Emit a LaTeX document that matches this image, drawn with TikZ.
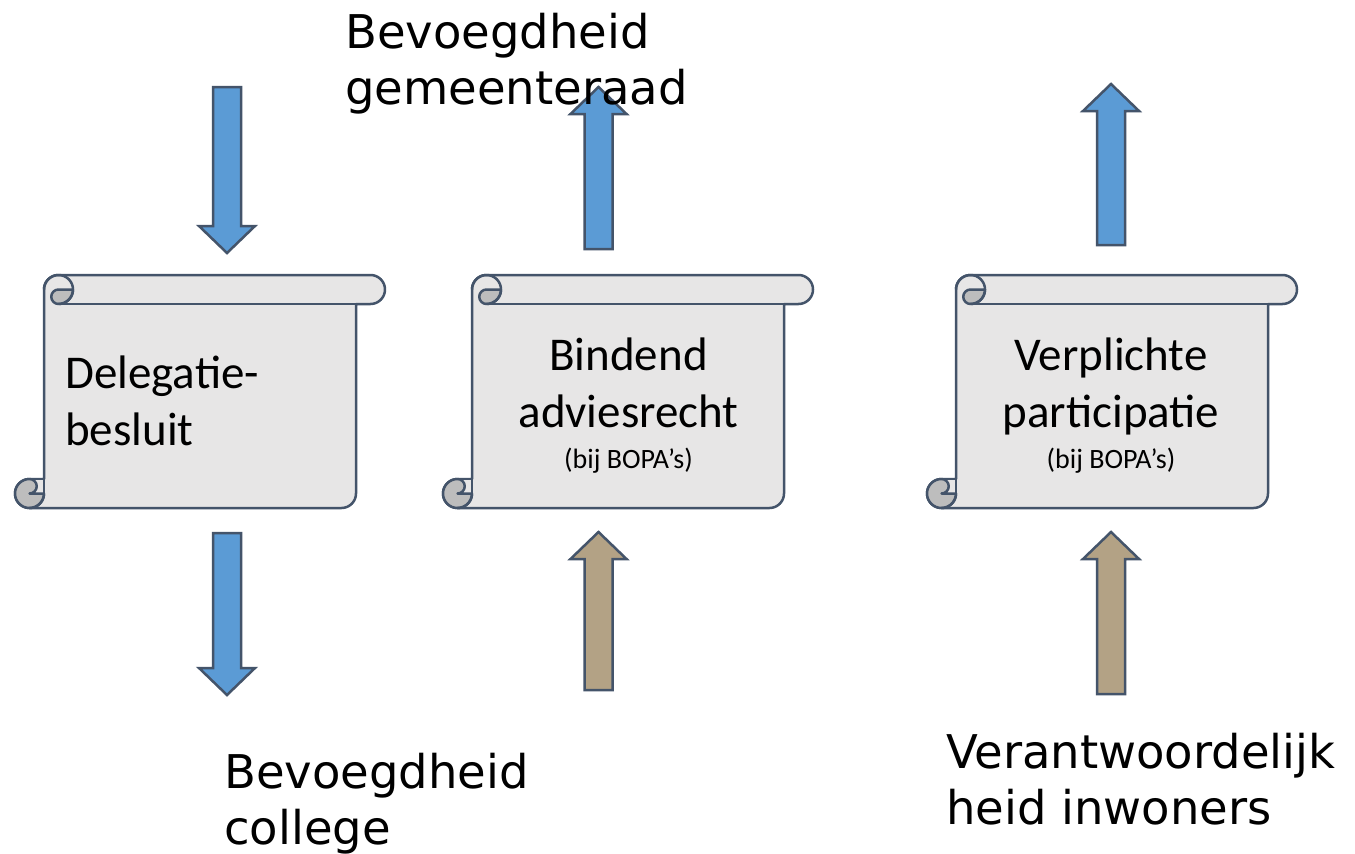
\documentclass[tikz,border=0pt]{standalone}
\usepackage{fontspec}
\setmainfont{Carlito}
\newfontfamily\verd{DejaVu Sans}
\definecolor{edgecol}{HTML}{44546A}
\definecolor{papercol}{HTML}{E7E6E6}
\definecolor{curlcol}{HTML}{BDBDBD}
\definecolor{bluecol}{HTML}{5B9BD5}
\definecolor{tancol}{HTML}{B3A285}
\tikzset{
  scrollline/.style={draw=edgecol, line width=2.5pt, line join=round},
  arrowline/.style={draw=edgecol, line width=2.5pt, line join=miter},
  bigtext/.style={anchor=base west, inner sep=0pt, font=\verd\fontsize{46.5}{56}\selectfont},
  scrolltext/.style={inner sep=0pt, font=\fontsize{47}{57}\selectfont}
}
\newcommand{\vbarrow}[5]{%
  \filldraw[arrowline, fill=#1] (#2-14,#3) -- (#2-14,#4) -- (#2-28,#4) -- (#2,#5)
    -- (#2+28,#4) -- (#2+14,#4) -- (#2+14,#3) -- cycle;}
\newcommand{\scrollat}[1]{%
\begin{scope}[shift={(#1,0)}]
  \filldraw[scrollline, fill=papercol] (43.5,275) -- (355.5,275)
    arc[start angle=-90,end angle=90,radius=14.5] -- (341,304) -- (341,493.5)
    arc[start angle=0,end angle=90,radius=14.5] -- (14.5,508)
    arc[start angle=90,end angle=270,radius=14.5] -- (29,479) -- (29,289.5)
    arc[start angle=180,end angle=270,radius=14.5] -- cycle;
  \draw[scrollline] (43.5,304) -- (341,304);
  % top-left curl
  \filldraw[scrollline, fill=curlcol] (43.5,289.5) -- (58,289.5)
    arc[start angle=0,end angle=90,radius=14.5]
    arc[start angle=90,end angle=270,radius=7.25] -- cycle;
  \draw[scrollline] (29,289.5) arc[start angle=180,end angle=450,radius=14.5];
  % bottom-left curl
  \fill[curlcol] (14.5,493.5) circle[radius=14.5];
  \fill[papercol] (14.5,479) -- (29,479) -- (29,493.5) -- (14.5,493.5)
    arc[start angle=90,end angle=-90,radius=7.25] -- cycle;
  \draw[scrollline] (14.5,479) arc[start angle=270,end angle=0,radius=14.5]
    -- (14.5,493.5) arc[start angle=90,end angle=-90,radius=7.25];
  \draw[scrollline] (14.5,479) -- (29,479) -- (29,493.5);
  \draw[scrollline] (29,493.5) arc[start angle=0,end angle=90,radius=14.5];
\end{scope}}
\begin{document}
\begin{tikzpicture}[x=1pt,y=-1pt]
\fill[white] (0,0) rectangle (1355,854);
\useasboundingbox (0,0) rectangle (1355,854);
% scrolls
\scrollat{15}
\scrollat{443}
\scrollat{927}
% arrows
\vbarrow{bluecol}{227}{87}{226}{253}
\vbarrow{bluecol}{227}{533}{668}{695}
\vbarrow{bluecol}{598.5}{249}{114}{87}
\vbarrow{bluecol}{1111}{245}{111}{84}
\vbarrow{tancol}{598.5}{690}{559}{532}
\vbarrow{tancol}{1111}{694}{559}{532}
% scroll texts
\node[scrolltext, anchor=base west] (deleg) at (65,388)
  {\begin{tabular}[t]{@{}l@{}}Delegatie-\\besluit\end{tabular}};
\node[scrolltext, anchor=base] (bindend) at (628.5,370)
  {\begin{tabular}[t]{@{}c@{}}Bindend\\adviesrecht\\[-16pt]{\fontsize{28}{34}\selectfont(bij BOPA’s)}\end{tabular}};
\node[scrolltext, anchor=base] (verpl) at (1111,370)
  {\begin{tabular}[t]{@{}c@{}}Verplichte\\participatie\\[-16pt]{\fontsize{28}{34}\selectfont(bij BOPA’s)}\end{tabular}};
% outer labels
\node[bigtext] (raad) at (345,48)
  {\begin{tabular}[t]{@{}l@{}}Bevoegdheid\\gemeenteraad\end{tabular}};
\node[bigtext] (college) at (224,788)
  {\begin{tabular}[t]{@{}l@{}}Bevoegdheid\\college\end{tabular}};
\node[bigtext] (inwoners) at (946,768)
  {\begin{tabular}[t]{@{}l@{}}Verantwoordelijk\\heid inwoners\end{tabular}};
\end{tikzpicture}
\end{document}
